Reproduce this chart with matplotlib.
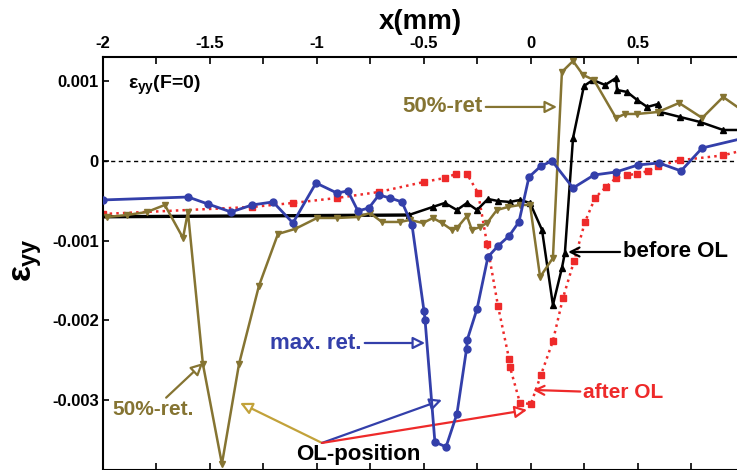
import matplotlib
matplotlib.use('Agg')
import matplotlib.pyplot as plt

# before OL (black)
before_x = [-2.0, -0.570, -0.458, -0.402, -0.345, -0.298, -0.251, -0.200, -0.153, -0.097,
            -0.050, -0.003, 0.053, 0.104, 0.146, 0.160, 0.198, 0.249, 0.291, 0.348,
            0.399, 0.404, 0.451, 0.498, 0.545, 0.596, 0.606, 0.699, 0.793, 0.900, 1.0]
before_y = [-0.00070, -0.000678, -0.000577, -0.000527, -0.000615, -0.000527, -0.000615,
            -0.000477, -0.000502, -0.000514, -0.000489, -0.000527, -0.000866, -0.001807,
            -0.001343, -0.001154, 0.000289, 0.000941, 0.001016, 0.000954, 0.001041,
            0.000891, 0.000866, 0.000765, 0.000678, 0.000715, 0.000615, 0.000552,
            0.000489, 0.000389, 0.000389]

# 50%-ret (olive)
ret50_x = [-1.983, -1.888, -1.795, -1.711, -1.626, -1.603, -1.533, -1.444, -1.364, -1.271,
           -1.182, -1.102, -0.999, -0.906, -0.808, -0.752, -0.696, -0.611, -0.565, -0.504,
           -0.457, -0.415, -0.368, -0.345, -0.298, -0.275, -0.237, -0.204, -0.158, -0.106,
           -0.050, -0.003, 0.044, 0.104, 0.146, 0.198, 0.245, 0.296, 0.399, 0.441, 0.498,
           0.596, 0.694, 0.802, 0.900, 1.0]
ret50_y = [-0.000703, -0.000678, -0.000640, -0.000552, -0.000966, -0.000640, -0.002547,
           -0.003802, -0.002547, -0.001568, -0.000916, -0.000853, -0.000715, -0.000715,
           -0.000703, -0.000652, -0.000765, -0.000765, -0.000740, -0.000778, -0.000715,
           -0.000778, -0.000866, -0.000841, -0.000690, -0.000866, -0.000828, -0.000778,
           -0.000615, -0.000577, -0.000552, -0.000552, -0.001455, -0.001217, 0.001117,
           0.001255, 0.001079, 0.001016, 0.000540, 0.000590, 0.000590, 0.000615,
           0.000728, 0.000540, 0.000803, 0.000615]

# max. ret. (blue)
maxret_x = [-2.0, -1.602, -1.509, -1.401, -1.303, -1.205, -1.112, -1.004, -0.906, -0.855,
            -0.808, -0.757, -0.710, -0.658, -0.602, -0.555, -0.499, -0.494, -0.448, -0.396,
            -0.345, -0.300, -0.297, -0.251, -0.200, -0.153, -0.101, -0.055, -0.008, 0.048,
            0.100, 0.198, 0.296, 0.399, 0.502, 0.600, 0.703, 0.802, 1.0]
maxret_y = [-0.000489, -0.000452, -0.000540, -0.000640, -0.000552, -0.000514, -0.000778,
            -0.000276, -0.000402, -0.000376, -0.000627, -0.000590, -0.000427, -0.000464,
            -0.000514, -0.000803, -0.001882, -0.001995, -0.003526, -0.003588, -0.003174,
            -0.002359, -0.002246, -0.001857, -0.001205, -0.001066, -0.000941, -0.000765,
            -0.000201, -0.000063, 0.0, -0.000339, -0.000176, -0.000138, -0.000050,
            -0.000025, -0.000125, 0.000163, 0.000289]

# after OL (red)
after_x = [-2.0, -1.303, -1.112, -0.906, -0.710, -0.499, -0.401, -0.350, -0.298, -0.246,
           -0.204, -0.153, -0.101, -0.097, -0.050, 0.001, 0.048, 0.104, 0.151, 0.203,
           0.254, 0.301, 0.352, 0.399, 0.450, 0.498, 0.549, 0.596, 0.699, 0.900, 1.0]
after_y = [-0.000665, -0.000577, -0.000527, -0.000464, -0.000389, -0.000263, -0.000213,
           -0.000163, -0.000163, -0.000402, -0.001041, -0.001819, -0.002484, -0.002585,
           -0.003036, -0.003049, -0.002685, -0.002258, -0.001719, -0.001255, -0.000765,
           -0.000464, -0.000326, -0.000213, -0.000176, -0.000163, -0.000125, -0.000063,
           0.000010, 0.000070, 0.000140]

x_ticks = [-2, -1.5, -1, -0.5, 0, 0.5, 1]
x_tick_labels = ['-2', '-1.5', '-1', '-0.5', '0', '0.5', '']
y_ticks = [0.001, 0, -0.001, -0.002, -0.003]
y_tick_labels = ['0.001', '0', '-0.001', '-0.002', '-0.003']

olive = '#857432'
gold = '#C2A23A'
blue = '#333FAA'
red = '#EE2A2A'

plt.rcParams['font.family'] = ['Liberation Sans', 'DejaVu Sans']
plt.rcParams['font.weight'] = 'bold'
plt.rcParams['mathtext.fontset'] = 'custom'
plt.rcParams['mathtext.rm'] = 'Liberation Sans:bold'
plt.rcParams['mathtext.it'] = 'Liberation Sans:bold'
plt.rcParams['mathtext.bf'] = 'Liberation Sans:bold'

fig = plt.figure(figsize=(7.37, 4.70), dpi=100)
ax = fig.add_axes([0.1398, -0.0004, 0.8704, 0.880])

ax.axhline(0, color='black', lw=1.0, ls=(0, (3, 2.5)), zorder=1)

ax.plot(after_x, after_y, color=red, ls=':', lw=1.8, marker='s', ms=4.5, zorder=2)
ax.plot(before_x[:2], before_y[:2], color='black', lw=2.4, zorder=3)
ax.plot(before_x[1:], before_y[1:], color='black', lw=1.8, marker='^', ms=4.5,
        markevery=list(range(0, len(before_x) - 2)), zorder=3)
ax.plot(ret50_x, ret50_y, color=olive, lw=1.8, marker='v', ms=4, zorder=4)
ax.plot(maxret_x, maxret_y, color=blue, lw=2, marker='o', ms=5,
        markevery=list(range(0, len(maxret_x) - 1)), zorder=5)

ax.set_xlim(-2, 1)
ax.set_ylim(-0.00388, 0.00131)

ax.xaxis.tick_top()
ax.set_xticks(x_ticks)
ax.set_xticklabels(x_tick_labels)
ax.set_xticks([-1.75, -1.25, -0.75, -0.25, 0.25, 0.75], minor=True)
ax.tick_params(axis='x', which='both', direction='in', top=True, bottom=True,
               length=5, width=1.2, labelsize=12, pad=4)
ax.set_yticks(y_ticks)
ax.set_yticklabels(y_tick_labels)
ax.tick_params(axis='y', direction='in', length=4, width=1.2, labelsize=12, pad=3)
for s in ax.spines.values():
    s.set_linewidth(1.5)

fig.text(0.570, 0.953, 'x(mm)', ha='center', va='center', fontsize=20)
fig.text(0.038, 0.447, r'$\varepsilon_{yy}$', ha='center', va='center',
         fontsize=24, rotation=90)

ax.text(-1.883, 0.00095, r'$\varepsilon_{yy}$(F=0)', ha='left', va='center', fontsize=14)

hollow = dict(arrowstyle='-|>', fc='white', lw=1.6, mutation_scale=18, shrinkA=0, shrinkB=0)
line_head = dict(arrowstyle='->', lw=1.6, mutation_scale=16, shrinkA=0, shrinkB=0)

ax.annotate('50%-ret', xy=(0.123, 0.000678), xytext=(-0.223, 0.000678), ha='right',
            va='center', fontsize=16, color=olive, arrowprops=dict(hollow, ec=olive))
ax.annotate('before OL', xy=(0.175, -0.001142), xytext=(0.431, -0.001142), ha='left',
            va='center', fontsize=16, color='black', arrowprops=dict(line_head, color='black'))
ax.annotate('after OL', xy=(0.011, -0.002873), xytext=(0.245, -0.002911), ha='left',
            va='center', fontsize=15, color=red, arrowprops=dict(line_head, color=red))
ax.annotate('max. ret.', xy=(-0.494, -0.002284), xytext=(-0.789, -0.002284), ha='right',
            va='center', fontsize=16, color=blue, arrowprops=dict(hollow, ec=blue))
ax.annotate('50%-ret.', xy=(-1.532, -0.002535), xytext=(-1.766, -0.003124), ha='center',
            va='center', fontsize=15, color=olive, arrowprops=dict(hollow, ec=olive))

ol_origin = (-0.976, -0.003538)
ax.annotate('', xy=(-1.359, -0.003036), xytext=ol_origin, arrowprops=dict(hollow, ec=gold))
ax.annotate('', xy=(-0.415, -0.002999), xytext=ol_origin, arrowprops=dict(hollow, ec=blue))
ax.annotate('', xy=(-0.017, -0.003124), xytext=ol_origin, arrowprops=dict(hollow, ec=red))
ax.text(-0.807, -0.003689, 'OL-position', ha='center', va='center', fontsize=16, color='black')

fig.savefig('out.png', dpi=100)
